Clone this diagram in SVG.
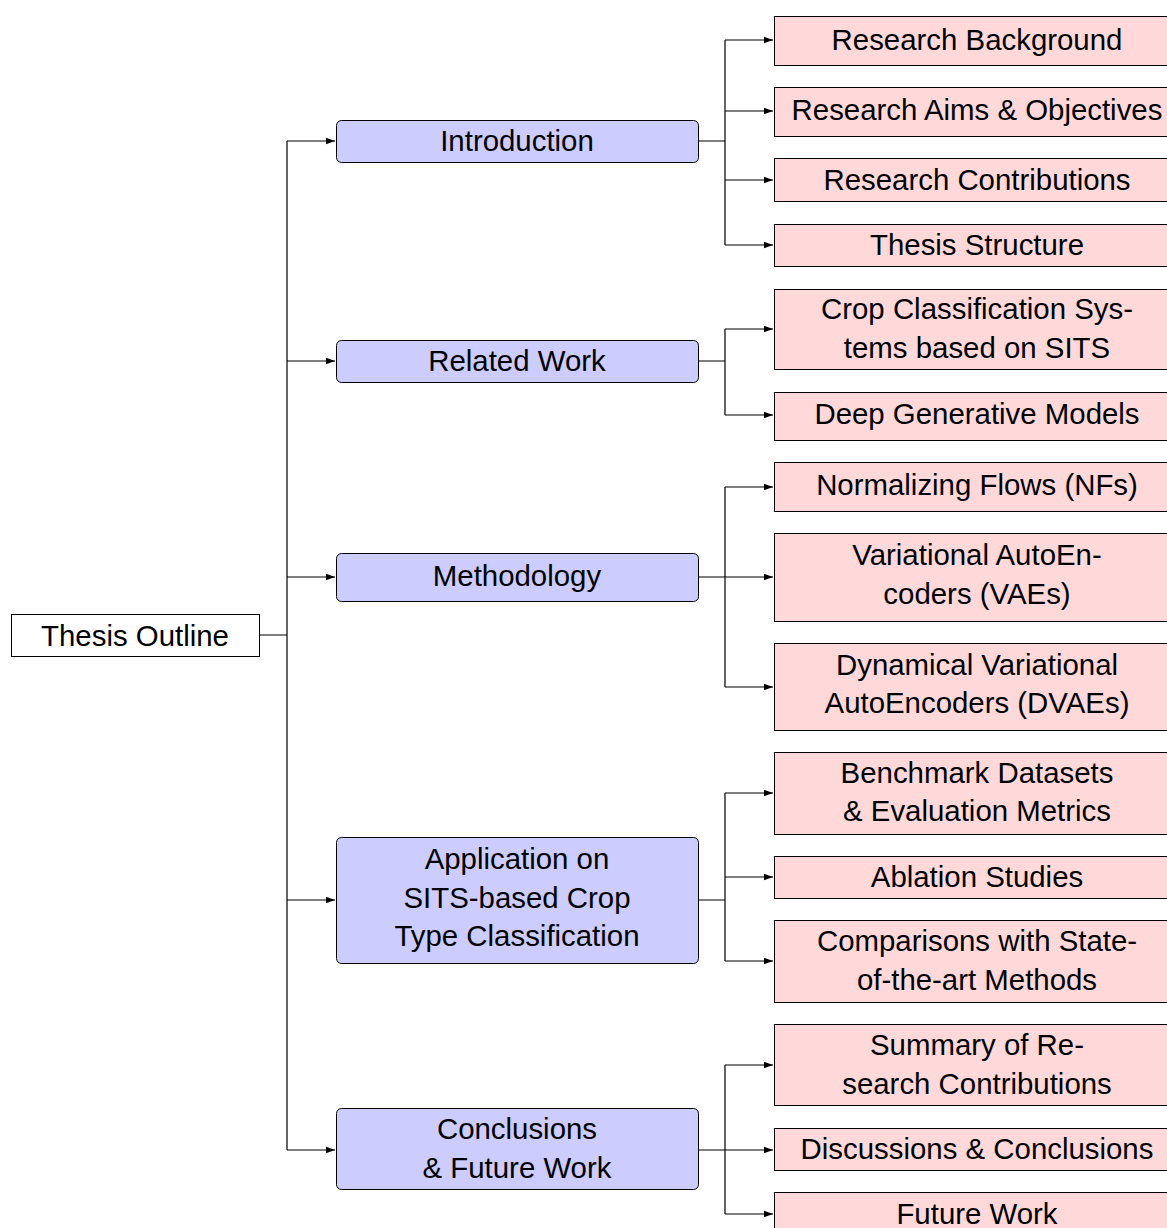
<svg xmlns="http://www.w3.org/2000/svg" width="1167" height="1228" viewBox="0 0 1167 1228">
<defs>
<marker id="ah" markerWidth="10" markerHeight="8" refX="9" refY="4" orient="auto" markerUnits="userSpaceOnUse">
<path d="M0,0.8 L9,4 L0,7.2 Z" fill="#000"/>
</marker>
<style>
text{font-family:"Liberation Sans",Arial,sans-serif;font-size:29.4px;fill:#000;text-anchor:middle}
.root{fill:#fff;stroke:#000;stroke-width:1}
.blue{fill:#ccccff;stroke:#000;stroke-width:1}
.pink{fill:#ffd9d9;stroke:#000;stroke-width:1}
.c{fill:none;stroke:#000;stroke-width:1.2}
.a{fill:none;stroke:#000;stroke-width:1.2;marker-end:url(#ah)}
</style>
</defs>
<rect width="1167" height="1228" fill="#fff"/>
<g id="connectors">
<path class="c" d="M259.5,635 H287 M287,141 V1150"/>
<path class="a" d="M287,141 H335"/>
<path class="a" d="M287,361 H335"/>
<path class="a" d="M287,577 H335"/>
<path class="a" d="M287,900 H335"/>
<path class="a" d="M287,1150 H335"/>
<path class="c" d="M698,141 H725 M725,40 V245"/>
<path class="a" d="M725,40 H773"/>
<path class="a" d="M725,111 H773"/>
<path class="a" d="M725,180 H773"/>
<path class="a" d="M725,245 H773"/>
<path class="c" d="M698,361 H725 M725,329 V415"/>
<path class="a" d="M725,329 H773"/>
<path class="a" d="M725,415 H773"/>
<path class="c" d="M698,577 H725 M725,487 V687"/>
<path class="a" d="M725,487 H773"/>
<path class="a" d="M725,577 H773"/>
<path class="a" d="M725,687 H773"/>
<path class="c" d="M698,900 H725 M725,793 V961"/>
<path class="a" d="M725,793 H773"/>
<path class="a" d="M725,877 H773"/>
<path class="a" d="M725,961 H773"/>
<path class="c" d="M698,1150 H725 M725,1065 V1214"/>
<path class="a" d="M725,1065 H773"/>
<path class="a" d="M725,1150 H773"/>
<path class="a" d="M725,1214 H773"/>
</g>
<g id="n-root"><rect class="root" x="11.5" y="614.5" width="248" height="42"/><text x="135" y="646">Thesis Outline</text></g>
<g id="n-intro"><rect class="blue" x="336.5" y="120.5" width="362" height="42" rx="5"/><text x="517" y="151">Introduction</text></g>
<g id="n-related"><rect class="blue" x="336.5" y="340.5" width="362" height="42" rx="5"/><text x="517" y="371">Related Work</text></g>
<g id="n-method"><rect class="blue" x="336.5" y="553.5" width="362" height="48" rx="5"/><text x="517" y="586">Methodology</text></g>
<g id="n-app"><rect class="blue" x="336.5" y="837.5" width="362" height="126" rx="5"/><text x="517" y="869">Application on</text><text x="517" y="907.5">SITS-based Crop</text><text x="517" y="946">Type Classification</text></g>
<g id="n-concl"><rect class="blue" x="336.5" y="1108.5" width="362" height="81" rx="5"/><text x="517" y="1139">Conclusions</text><text x="517" y="1178">&amp; Future Work</text></g>
<g id="n-bg"><rect class="pink" x="774.5" y="16.5" width="420" height="49"/><text x="977" y="50">Research Background</text></g>
<g id="n-aims"><rect class="pink" x="774.5" y="87.5" width="420" height="49"/><text x="977" y="120">Research Aims &amp; Objectives</text></g>
<g id="n-contrib"><rect class="pink" x="774.5" y="158.5" width="420" height="43"/><text x="977" y="190">Research Contributions</text></g>
<g id="n-struct"><rect class="pink" x="774.5" y="224.5" width="420" height="42"/><text x="977" y="255">Thesis Structure</text></g>
<g id="n-crop"><rect class="pink" x="774.5" y="289.5" width="420" height="80"/><text x="977" y="319">Crop Classification Sys-</text><text x="977" y="358">tems based on SITS</text></g>
<g id="n-dgm"><rect class="pink" x="774.5" y="392.5" width="420" height="48"/><text x="977" y="424">Deep Generative Models</text></g>
<g id="n-nf"><rect class="pink" x="774.5" y="462.5" width="420" height="49"/><text x="977" y="495">Normalizing Flows (NFs)</text></g>
<g id="n-vae"><rect class="pink" x="774.5" y="533.5" width="420" height="88"/><text x="977" y="565">Variational AutoEn-</text><text x="977" y="604">coders (VAEs)</text></g>
<g id="n-dvae"><rect class="pink" x="774.5" y="643.5" width="420" height="87"/><text x="977" y="675">Dynamical Variational</text><text x="977" y="713">AutoEncoders (DVAEs)</text></g>
<g id="n-bench"><rect class="pink" x="774.5" y="752.5" width="420" height="82"/><text x="977" y="783">Benchmark Datasets</text><text x="977" y="821">&amp; Evaluation Metrics</text></g>
<g id="n-abl"><rect class="pink" x="774.5" y="856.5" width="420" height="42"/><text x="977" y="887">Ablation Studies</text></g>
<g id="n-comp"><rect class="pink" x="774.5" y="920.5" width="420" height="82"/><text x="977" y="951">Comparisons with State-</text><text x="977" y="990">of-the-art Methods</text></g>
<g id="n-sum"><rect class="pink" x="774.5" y="1024.5" width="420" height="81"/><text x="977" y="1055">Summary of Re-</text><text x="977" y="1094">search Contributions</text></g>
<g id="n-disc"><rect class="pink" x="774.5" y="1128.5" width="420" height="42"/><text x="977" y="1159">Discussions &amp; Conclusions</text></g>
<g id="n-future"><rect class="pink" x="774.5" y="1192.5" width="420" height="48"/><text x="977" y="1224">Future Work</text></g>
</svg>
